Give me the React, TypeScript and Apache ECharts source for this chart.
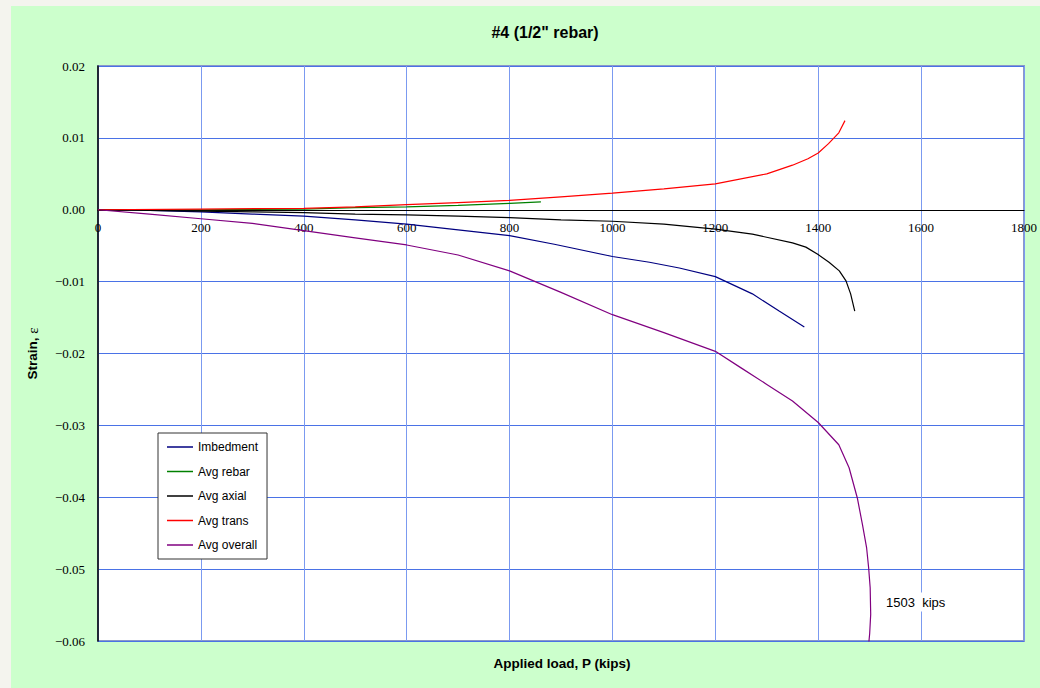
import React, { useEffect, useRef } from 'react';
import * as echarts from 'echarts';

const seriesNames = ['Imbedment', 'Avg rebar', 'Avg axial', 'Avg trans', 'Avg overall'];
const seriesColors = ['#000080', '#008000', '#000000', '#ff0000', '#800080'];

const imbedmentLoad = [0, 100, 200, 300, 400, 500, 600, 700, 800, 887, 1000, 1072, 1130, 1200, 1272, 1324, 1373];
const imbedmentStrain = [0, -0.0001, -0.0003, -0.0006, -0.0009, -0.0014, -0.002, -0.0028, -0.0036, -0.0048, -0.0065, -0.0073, -0.0081, -0.0093, -0.0117, -0.0141, -0.0163];

const rebarLoad = [0, 200, 400, 500, 600, 700, 800, 861];
const rebarStrain = [0, 0.0, 0.0001, 0.0003, 0.0004, 0.0006, 0.0009, 0.0011];

const axialLoad = [0, 100, 200, 300, 400, 500, 600, 700, 800, 900, 1000, 1100, 1200, 1272, 1350, 1376, 1399, 1421, 1441, 1454, 1463, 1471];
const axialStrain = [0, -0.0001, -0.0002, -0.0003, -0.0004, -0.0006, -0.0007, -0.0009, -0.0011, -0.0014, -0.0016, -0.002, -0.0027, -0.0034, -0.0046, -0.0052, -0.0062, -0.0073, -0.0085, -0.0099, -0.0117, -0.0141];

const transLoad = [0, 200, 400, 500, 600, 700, 800, 900, 1000, 1100, 1200, 1300, 1350, 1380, 1400, 1420, 1440, 1452];
const transStrain = [0, 0.0001, 0.0002, 0.0004, 0.0007, 0.001, 0.0013, 0.0018, 0.0023, 0.0029, 0.0036, 0.005, 0.0062, 0.0071, 0.0079, 0.0092, 0.0107, 0.0124];

const overallLoad = [0, 100, 200, 300, 400, 500, 600, 700, 800, 900, 1000, 1100, 1200, 1250, 1300, 1350, 1400, 1440, 1460, 1476, 1486, 1494, 1498, 1501, 1502, 1500, 1498];
const overallStrain = [0, -0.0006, -0.00125, -0.0019, -0.0029, -0.0039, -0.0049, -0.0063, -0.0085, -0.0115, -0.0146, -0.0171, -0.0197, -0.022, -0.0243, -0.0266, -0.0296, -0.0327, -0.0359, -0.0401, -0.0438, -0.047, -0.0498, -0.0526, -0.0563, -0.059, -0.0605];

const xTicks = [0, 200, 400, 600, 800, 1000, 1200, 1400, 1600, 1800];
const yTicks = [-0.06, -0.05, -0.04, -0.03, -0.02, -0.01, 0.0, 0.01, 0.02];

const titleText = '#4 (1/2" rebar)';
const xName = 'Applied load, P (kips)';
const yNameMain = 'Strain, ';
const yNameSymbol = '\u03b5';
const noteText = '1503  kips';

const zip = (a: number[], b: number[]) => a.map((v, i) => [v, b[i]]);

export default function App() {
  const ref = useRef<HTMLDivElement>(null);
  useEffect(() => {
    const chart = echarts.init(ref.current!, null, { renderer: 'svg' });
    const loads = [imbedmentLoad, rebarLoad, axialLoad, transLoad, overallLoad];
    const strains = [imbedmentStrain, rebarStrain, axialStrain, transStrain, overallStrain];
    const gridTop = 66;
    const gridBottom = 47;
    const plotH = 688 - gridTop - gridBottom;
    const yMin = yTicks[0];
    const yMax = yTicks[yTicks.length - 1];
    const zeroOffset = -plotH * (0 - yMin) / (yMax - yMin);
    chart.setOption({
      animation: false,
      backgroundColor: '#ccffcc',
      grid: {
        left: 98,
        right: 15,
        top: gridTop,
        bottom: gridBottom,
        show: true,
        backgroundColor: '#ffffff',
        borderColor: '#8a98c8',
        borderWidth: 2,
      },
      graphic: [
        { type: 'rect', shape: { x: 0, y: 0, width: 11, height: 688 }, style: { fill: '#f4f4ee' }, z: -10 },
        { type: 'rect', shape: { x: 0, y: 0, width: 1040, height: 6 }, style: { fill: '#f4f4ee' }, z: -10 },
        {
          type: 'text', x: 545, y: 32, z: 100,
          style: { text: titleText, align: 'center', verticalAlign: 'middle', font: 'bold 16px "Liberation Sans", Arial, sans-serif', fill: '#000' },
        },
        {
          type: 'text', x: 562, y: 663, z: 100,
          style: { text: xName, align: 'center', verticalAlign: 'middle', font: 'bold 13.5px "Liberation Sans", Arial, sans-serif', fill: '#000' },
        },
        {
          type: 'text', x: 884, y: 602, z: 100,
          style: { text: noteText, align: 'left', verticalAlign: 'middle', font: '13px "Liberation Sans", Arial, sans-serif', fill: '#000', backgroundColor: '#fff', padding: [3, 2] },
        },
      ],
      legend: {
        data: seriesNames,
        orient: 'vertical',
        left: 158,
        top: 433,
        backgroundColor: '#fff',
        borderColor: '#333',
        borderWidth: 1,
        padding: [8, 9, 8, 9],
        itemGap: 12.5,
        itemWidth: 26,
        itemHeight: 1.5,
        icon: 'rect',
        textStyle: { fontFamily: '"Liberation Sans", Arial, sans-serif', fontSize: 12, color: '#000' },
      },
      xAxis: {
        type: 'value',
        min: xTicks[0],
        max: xTicks[xTicks.length - 1],
        interval: 200,
        position: 'bottom',
        offset: zeroOffset,
        axisLine: { show: true, onZero: false, lineStyle: { color: '#000', width: 1 } },
        axisTick: { show: false },
        axisLabel: {
          margin: 11,
          fontFamily: '"Liberation Serif", "Times New Roman", serif',
          fontSize: 13,
          color: '#000',
          showMinLabel: true,
          showMaxLabel: true,
          formatter: (v: number) => String(v),
        },
        splitLine: { show: true, lineStyle: { color: '#7b9af0', width: 1 } },
      },
      yAxis: {
        type: 'value',
        min: yMin,
        max: yMax,
        interval: 0.01,
        name: '{a|' + yNameMain + '}{e|' + yNameSymbol + '}',
        nameLocation: 'middle',
        nameRotate: 90,
        nameGap: 58,
        nameTextStyle: {
          rich: {
            a: { fontFamily: '"Liberation Sans", Arial, sans-serif', fontSize: 13.5, fontWeight: 'bold', color: '#000' },
            e: { fontFamily: '"Liberation Serif", "Times New Roman", serif', fontSize: 15, color: '#000' },
          },
        },
        axisLine: { show: true, onZero: false, lineStyle: { color: '#000', width: 1.5 } },
        axisTick: { show: false },
        axisLabel: {
          margin: 13,
          fontFamily: '"Liberation Serif", "Times New Roman", serif',
          fontSize: 13,
          color: '#000',
          formatter: (v: number) => (Math.round(v * 100) / 100).toFixed(2).replace('-', '\u2212'),
        },
        splitLine: { show: true, lineStyle: { color: '#4a72e6', width: 1 } },
      },
      series: seriesNames.map((name, i) => ({
        name,
        type: 'line',
        data: zip(loads[i], strains[i]),
        symbol: 'none',
        clip: true,
        color: seriesColors[i],
        lineStyle: { color: seriesColors[i], width: 1.2 },
        z: 3,
      })),
    });
    return () => chart.dispose();
  }, []);
  return <div ref={ref} style={{ position: 'fixed', left: 0, top: 0, width: 1040, height: 688 }} />;
}
